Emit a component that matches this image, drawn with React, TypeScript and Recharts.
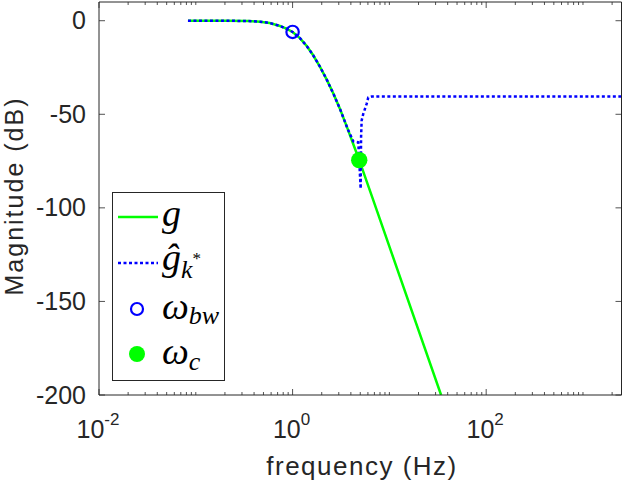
import { ComposedChart, Label, Legend, Line, Scatter, XAxis, YAxis } from "recharts"

// magnitude of g
const gFreq = [0.083, 0.2, 0.35, 0.46, 0.58, 0.74, 0.85, 1, 1.19, 1.4, 1.62, 1.9, 2.26, 2.65, 3.08, 3.73, 4.24, 4.88, 6.77, 34.2]
const gMag = [0, 0, -0.2, -0.5, -1.2, -2.8, -4.1, -6, -9.3, -13.5, -18.2, -24.2, -31.6, -39.2, -47, -58.2, -66, -74.5, -95.5, -200]

// magnitude of the estimate g-hat_k*
const hatFreq = [0.083, 0.2, 0.35, 0.46, 0.58, 0.74, 0.85, 1, 1.19, 1.4, 1.62, 1.9, 2.26, 2.65, 3.08, 3.73, 4.24, 4.77, 5.05, 5.1, 5.17, 5.37, 5.82, 6.05, 6.56, 2500]
const hatMag = [0, 0, -0.2, -0.5, -1.2, -2.8, -4.1, -6, -9.3, -13.5, -18.2, -24.2, -31.6, -39.2, -47, -58.2, -64.5, -65, -89.8, -62, -53.3, -49.8, -44.4, -41, -40.5, -40.5]

// markers
const bwFreq = [1]
const bwMag = [-6]
const cFreq = [4.88]
const cMag = [-74.5]

// axes
const xDomain = [0.01, 2500]
const yDomain = [-200, 10]
const decades = [0.01, 0.1, 1, 10, 100, 1000]
const minorSteps = [2, 3, 4, 5, 6, 7, 8, 9]
const labeledTicks = [0.01, 1, 100]
const labelExponents = ["-2", "0", "2"]
const yTicks = [-200, -150, -100, -50, 0]

const xTicks = decades
  .flatMap((d) => [d, ...minorSteps.map((m) => +(d * m).toPrecision(3))])
  .filter((v) => v <= xDomain[1])

const gData = gFreq.map((f, i) => ({ f, m: gMag[i] }))
const hatData = hatFreq.map((f, i) => ({ f, m: hatMag[i] }))
const bwData = bwFreq.map((f, i) => ({ f, m: bwMag[i] }))
const cData = cFreq.map((f, i) => ({ f, m: cMag[i] }))

const AXIS = "#262626"
const TEXT = "#262626"
const GREEN = "#00ff00"
const BLUE = "#0000ff"
const FONT = '"Liberation Sans", Arial, Helvetica, sans-serif'
const MATH = '"Liberation Serif", "DejaVu Serif", serif'

function BottomTick({ x, y, payload }: any) {
  const i = labeledTicks.indexOf(payload.value)
  const len = i >= 0 ? 6 : 3
  return (
    <g>
      <line x1={x} x2={x} y1={y} y2={y - len} stroke={AXIS} strokeWidth={0.8} />
      {i >= 0 && (
        <text x={x - 1} y={y + 43} textAnchor="middle" fill={TEXT} fontFamily={FONT} fontSize={25}>
          10
          <tspan dy={-13} fontSize={17}>
            {labelExponents[i]}
          </tspan>
        </text>
      )}
    </g>
  )
}

function TopTick({ x, y, payload }: any) {
  const len = labeledTicks.includes(payload.value) ? 6 : 3
  return <line x1={x} x2={x} y1={y} y2={y + len} stroke={AXIS} strokeWidth={0.8} />
}

function LeftTick({ x, y, payload }: any) {
  return (
    <g>
      <line x1={x} x2={x + 6} y1={y} y2={y} stroke={AXIS} strokeWidth={0.8} />
      <text x={x - 13} y={y + 8.5} textAnchor="end" fill={TEXT} fontFamily={FONT} fontSize={25}>
        {payload.value}
      </text>
    </g>
  )
}

function RightTick({ x, y }: any) {
  return <line x1={x} x2={x - 6} y1={y} y2={y} stroke={AXIS} strokeWidth={0.8} />
}

function LegendBox() {
  return (
    <svg width={114} height={190} style={{ display: "block" }}>
      <rect x={0.5} y={0.5} width={112} height={188} fill="#fff" stroke={AXIS} strokeWidth={1} />
      <line x1={6} x2={46} y1={25} y2={25} stroke={GREEN} strokeWidth={2.5} />
      <text x={50} y={34} fontFamily={MATH} fontStyle="italic" fontSize={38} fill="#000">
        g
      </text>
      <line x1={6} x2={46} y1={71} y2={71} stroke={BLUE} strokeWidth={2.5} strokeDasharray="3 2.5" />
      <text x={50} y={78} fontFamily={MATH} fontStyle="italic" fontSize={38} fill="#000">
        ĝ
        <tspan dy={8} fontSize={26}>
          k
        </tspan>
        <tspan dy={-14} fontSize={17} fontStyle="normal">
          *
        </tspan>
      </text>
      <circle cx={25} cy={117} r={6} fill="none" stroke={BLUE} strokeWidth={2.2} />
      <text x={50} y={127} fontFamily={MATH} fontStyle="italic" fontSize={38} fill="#000">
        ω
        <tspan dy={5} fontSize={26}>
          bw
        </tspan>
      </text>
      <circle cx={25} cy={162} r={8} fill={GREEN} />
      <text x={50} y={172} fontFamily={MATH} fontStyle="italic" fontSize={38} fill="#000">
        ω
        <tspan dy={6} fontSize={26}>
          c
        </tspan>
      </text>
    </svg>
  )
}

export default function App() {
  return (
    <div style={{ position: "absolute", left: 0, top: 0, background: "#fff" }}>
      <ComposedChart width={623} height={482} margin={{ top: 1, right: 0.5, bottom: 86, left: 98 }}>
        <XAxis
          dataKey="f"
          type="number"
          scale="log"
          domain={xDomain}
          allowDataOverflow
          ticks={xTicks}
          interval={0}
          tick={<BottomTick />}
          tickLine={false}
          tickSize={0}
          tickMargin={0}
          height={1}
          axisLine={{ stroke: AXIS, strokeWidth: 1 }}
        >
          <Label
            content={() => (
              <text x={362} y={475} textAnchor="middle" fill={TEXT} fontFamily={FONT} fontSize={26} letterSpacing={1.5}>
                frequency (Hz)
              </text>
            )}
          />
        </XAxis>
        <XAxis
          xAxisId="top"
          orientation="top"
          dataKey="f"
          type="number"
          scale="log"
          domain={xDomain}
          allowDataOverflow
          ticks={xTicks}
          interval={0}
          tick={<TopTick />}
          tickLine={false}
          tickSize={0}
          tickMargin={0}
          height={1}
          axisLine={{ stroke: AXIS, strokeWidth: 1 }}
        />
        <YAxis
          type="number"
          domain={yDomain}
          allowDataOverflow
          ticks={yTicks}
          interval={0}
          tick={<LeftTick />}
          tickLine={false}
          tickSize={0}
          tickMargin={0}
          width={1}
          axisLine={{ stroke: AXIS, strokeWidth: 1 }}
        >
          <Label
            content={() => (
              <text
                x={23}
                y={196}
                transform="rotate(-90 23 196)"
                textAnchor="middle"
                fill={TEXT}
                fontFamily={FONT}
                fontSize={25}
                letterSpacing={2}
              >
                Magnitude (dB)
              </text>
            )}
          />
        </YAxis>
        <YAxis
          yAxisId="right"
          orientation="right"
          type="number"
          domain={yDomain}
          allowDataOverflow
          ticks={yTicks}
          interval={0}
          tick={<RightTick />}
          tickLine={false}
          tickSize={0}
          tickMargin={0}
          width={1}
          axisLine={{ stroke: AXIS, strokeWidth: 1 }}
        />
        <Legend
          layout="vertical"
          align="center"
          verticalAlign="middle"
          content={() => <LegendBox />}
          wrapperStyle={{ left: 112, top: 192, width: 114, height: 190 }}
        />
        <Line
          data={gData}
          dataKey="m"
          type="linear"
          stroke={GREEN}
          strokeWidth={2.5}
          dot={false}
          activeDot={false}
          isAnimationActive={false}
        />
        <Line
          data={hatData}
          dataKey="m"
          type="linear"
          stroke={BLUE}
          strokeWidth={2.5}
          strokeDasharray="3 2.5"
          dot={false}
          activeDot={false}
          isAnimationActive={false}
        />
        <Scatter
          data={bwData}
          dataKey="m"
          isAnimationActive={false}
          shape={(p: any) => <circle cx={p.cx} cy={p.cy} r={6.2} fill="none" stroke={BLUE} strokeWidth={2.2} />}
        />
        <Scatter
          data={cData}
          dataKey="m"
          isAnimationActive={false}
          shape={(p: any) => <circle cx={p.cx} cy={p.cy} r={8.2} fill={GREEN} />}
        />
      </ComposedChart>
    </div>
  )
}
